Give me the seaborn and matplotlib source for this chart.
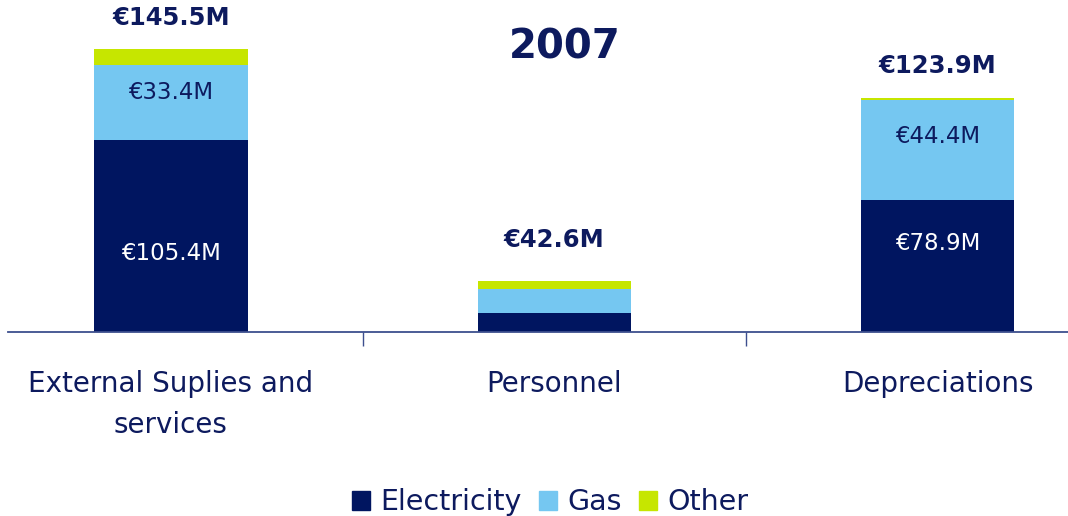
import matplotlib.pyplot as plt
import seaborn as sns
import numpy as np
from matplotlib.patches import Patch

sns.set_theme(style="white")
plt.rcParams['font.family'] = ['DejaVu Sans']

# Datos (alturas, etiquetas tal como aparecen)
categories = ["External Suplies and\nservices", "Personnel", "Depreciations"]
electricity = [98.7, 9.8, 67.9]
gas = [38.6, 12.3, 51.4]
other = [8.2, 4.1, 1.0]
total_labels = ["€145.5M", "€42.6M", "€123.9M"]
elec_labels = ["€105.4M", "", "€78.9M"]
gas_labels = ["€33.4M", "", "€44.4M"]

NAVY = "#001560"
GAS = "#75c7f1"
OTHER = "#c6e600"
TXT = "#0d1a5e"

elec = np.array(electricity)
eg = elec + np.array(gas)
tot = eg + np.array(other)
xs = np.arange(len(categories))

fig = plt.figure(figsize=(10.68, 5.16), dpi=100)
ax = fig.add_axes([8 / 1068, 184 / 516, 1 - 8 / 1068, 332 / 516])

for vals, col in [(tot, OTHER), (eg, GAS), (elec, NAVY)]:
    sns.barplot(x=xs, y=vals, color=col, width=0.4, saturation=1, ax=ax,
                native_scale=True, linewidth=0, edgecolor=col)

ax.set_xlim(-0.425, 2.34)
ax.set_ylim(0, 170.7)

# posiciones de las etiquetas (solo estilo)
tot_offset = [31, 41, 32]
elec_frac = [0.41, 0.5, 0.67]
for i in range(len(categories)):
    ax.annotate(total_labels[i], (xs[i], tot[i]), xytext=(0, tot_offset[i]),
                textcoords="offset pixels", ha="center", va="center",
                fontsize=17.5, fontweight="bold", color=TXT)
    if elec_labels[i]:
        ax.text(xs[i], elec[i] * elec_frac[i], elec_labels[i], ha="center", va="center",
                fontsize=16.5, color="white")
    if gas_labels[i]:
        ax.text(xs[i], elec[i] + gas[i] * 0.63, gas_labels[i], ha="center", va="center",
                fontsize=16.5, color=TXT)

fig.text(565 / 1068, 1 - 48 / 516, "2007", ha="center", va="center",
         fontsize=29, fontweight="bold", color=TXT)

for s in ["top", "right", "left"]:
    ax.spines[s].set_visible(False)
ax.spines["bottom"].set_color("#3d4f8e")
ax.spines["bottom"].set_linewidth(1.3)
ax.set_yticks([])
ax.set_xticks([0.5, 1.5])
ax.set_xticklabels([])
ax.tick_params(axis="x", which="major", length=10, width=1, color="#3d4f8e", direction="out", bottom=True)
ax.set_xticks(xs, minor=True)
ax.set_xticklabels(categories, minor=True, fontsize=20, color=TXT, linespacing=1.6)
ax.tick_params(axis="x", which="minor", length=0, pad=27)
ax.set_xlabel("")
ax.set_ylabel("")

handles = [Patch(color=NAVY, label="Electricity"), Patch(color=GAS, label="Gas"),
           Patch(color=OTHER, label="Other")]
leg = fig.legend(handles=handles, loc="lower center", bbox_to_anchor=(0.515, -0.05), ncol=3,
                 frameon=False, fontsize=20.5, handlelength=0.65, handleheight=0.65,
                 handletextpad=0.35, columnspacing=0.6)
for t in leg.get_texts():
    t.set_color(TXT)

fig.savefig("out.png", dpi=100)
